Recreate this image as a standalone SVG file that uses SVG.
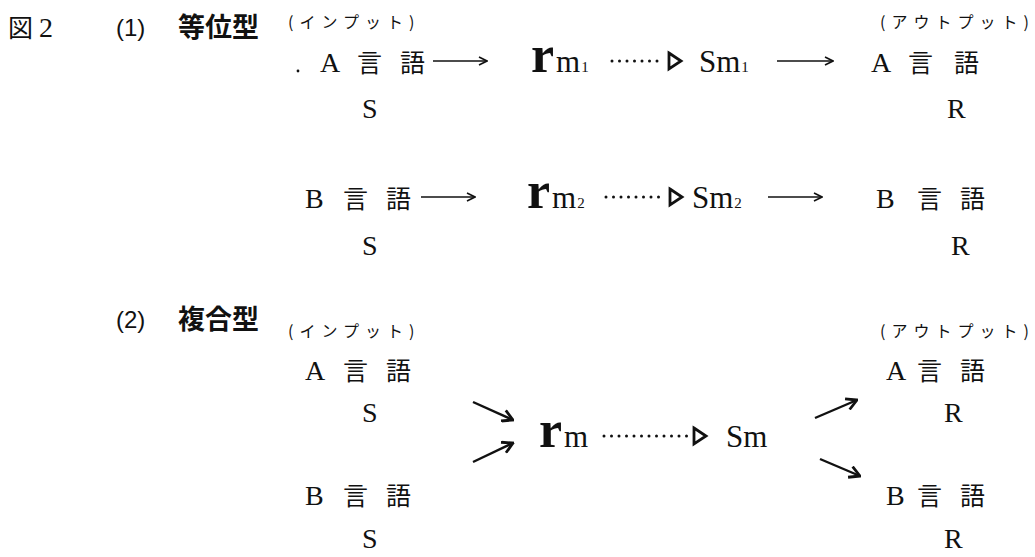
<svg xmlns="http://www.w3.org/2000/svg" width="1035" height="557" viewBox="0 0 1035 557">
<style>
text{fill:#111;font-family:"Liberation Serif","Noto Sans CJK JP",serif}
.t{font-size:28px}
.j{font-size:25px;font-family:"Noto Sans CJK JP","Liberation Serif",serif}
.h{font-size:27px;font-weight:bold;font-family:"Noto Sans CJK JP","Liberation Sans",sans-serif}
.n{font-size:24px;font-family:"Liberation Sans","Noto Sans CJK JP",sans-serif}
.k{font-size:16px;letter-spacing:6px;font-family:"Noto Sans CJK JP",serif}
.r{font-size:52px;font-weight:bold}
.m{font-size:31px}
.s{font-size:15px}
.ln{stroke:#111;stroke-width:1.6;fill:none}
.dl{stroke:#111;stroke-width:3;stroke-linecap:round;stroke-dasharray:0 7.5;fill:none}
.tri{stroke:#111;stroke-width:2.8;fill:none;stroke-linejoin:miter}
.dg{stroke:#111;stroke-width:2.4;fill:none}
</style>
<defs>
<marker id="ah" viewBox="0 0 10 10" refX="9" refY="5" markerWidth="10" markerHeight="10" markerUnits="userSpaceOnUse" orient="auto">
<path d="M1,1 L9,5 L1,9" fill="none" stroke="#111" stroke-width="1.6"/>
</marker>
<marker id="ah2" viewBox="0 0 12 12" refX="11" refY="6" markerWidth="14" markerHeight="14" markerUnits="userSpaceOnUse" orient="auto">
<path d="M2,1 L11,6 L2,11" fill="none" stroke="#111" stroke-width="2.4"/>
</marker>
</defs>

<g id="title">
<text x="8" y="37"><tspan style="font-size:25px;font-family:'Noto Sans CJK JP',sans-serif">図</tspan><tspan class="t" dx="6">2</tspan></text>
<text class="n" x="116" y="36">(1)</text>
<text class="h" x="178" y="37">等位型</text>
<text class="n" x="116" y="328">(2)</text>
<text class="h" x="178" y="329">複合型</text>
</g>

<g id="labels">
<text class="k" x="288" y="28">(インプット)</text>
<text class="k" x="880" y="28">(アウトプット)</text>
<text class="k" x="288" y="337">(インプット)</text>
<text class="k" x="880" y="337">(アウトプット)</text>
</g>

<g id="in-A1">
<circle cx="298" cy="71" r="1.4" fill="#111"/>
<text class="t" x="320" y="72">A</text>
<text class="j" x="357" y="72">言</text>
<text class="j" x="400" y="72">語</text>
<text class="t" x="362" y="118">S</text>
</g>
<g id="rm1">
<text x="531" y="72"><tspan class="r">r</tspan><tspan class="m" dx="2">m</tspan><tspan class="s" dx="1">1</tspan></text>
</g>
<g id="sm1">
<text x="699" y="72"><tspan class="m">Sm</tspan><tspan class="s" dx="1">1</tspan></text>
</g>
<g id="out-A1">
<text class="t" x="871" y="72">A</text>
<text class="j" x="908" y="72">言</text>
<text class="j" x="954" y="72">語</text>
<text class="t" x="947" y="118">R</text>
</g>

<g id="in-B1">
<text class="t" x="305" y="208">B</text>
<text class="j" x="343" y="208">言</text>
<text class="j" x="386" y="208">語</text>
<text class="t" x="362" y="255">S</text>
</g>
<g id="rm2">
<text x="527" y="208"><tspan class="r">r</tspan><tspan class="m" dx="2">m</tspan><tspan class="s" dx="1">2</tspan></text>
</g>
<g id="sm2">
<text x="692" y="208"><tspan class="m">Sm</tspan><tspan class="s" dx="1">2</tspan></text>
</g>
<g id="out-B1">
<text class="t" x="876" y="208">B</text>
<text class="j" x="917" y="208">言</text>
<text class="j" x="960" y="208">語</text>
<text class="t" x="951" y="255">R</text>
</g>

<g id="in-A2">
<text class="t" x="305" y="380">A</text>
<text class="j" x="343" y="380">言</text>
<text class="j" x="386" y="380">語</text>
<text class="t" x="362" y="422">S</text>
</g>
<g id="in-B2">
<text class="t" x="305" y="505">B</text>
<text class="j" x="343" y="505">言</text>
<text class="j" x="386" y="505">語</text>
<text class="t" x="362" y="548">S</text>
</g>
<g id="rm">
<text x="539" y="447"><tspan class="r">r</tspan><tspan class="m" dx="2">m</tspan></text>
</g>
<g id="sm">
<text class="m" x="726" y="447">Sm</text>
</g>
<g id="out-A2">
<text class="t" x="886" y="380">A</text>
<text class="j" x="917" y="380">言</text>
<text class="j" x="960" y="380">語</text>
<text class="t" x="944" y="422">R</text>
</g>
<g id="out-B2">
<text class="t" x="886" y="505">B</text>
<text class="j" x="917" y="505">言</text>
<text class="j" x="960" y="505">語</text>
<text class="t" x="944" y="548">R</text>
</g>

<g id="connectors">
<line class="ln" x1="433" y1="61" x2="487" y2="61" marker-end="url(#ah)"/>
<line class="ln" x1="777" y1="61" x2="833" y2="61" marker-end="url(#ah)"/>
<path class="dl" d="M612,61 H664"/>
<path class="tri" d="M669,53 L681,61 L669,69 Z"/>

<line class="ln" x1="421" y1="197" x2="475" y2="197" marker-end="url(#ah)"/>
<line class="ln" x1="768" y1="197" x2="822" y2="197" marker-end="url(#ah)"/>
<path class="dl" d="M606,197 H666"/>
<path class="tri" d="M670,189 L682,197 L670,205 Z"/>

<path class="dl" d="M604,436 H690"/>
<path class="tri" d="M694,428 L706,436 L694,444 Z"/>

<line class="dg" x1="473" y1="402" x2="513" y2="420" marker-end="url(#ah2)"/>
<line class="dg" x1="473" y1="462" x2="513" y2="443" marker-end="url(#ah2)"/>
<line class="dg" x1="815" y1="418" x2="857" y2="400" marker-end="url(#ah2)"/>
<line class="dg" x1="820" y1="459" x2="860" y2="476" marker-end="url(#ah2)"/>
</g>
</svg>
